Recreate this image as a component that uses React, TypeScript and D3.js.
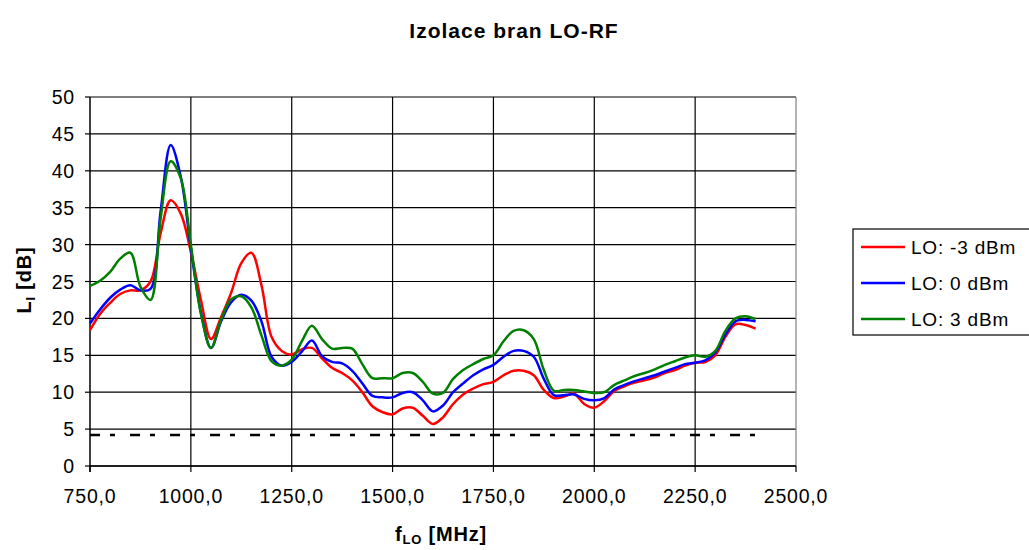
import React from "react";
import * as d3 from "d3";

// frequency grid [MHz]
const freqs = d3.range(750, 2401, 25);

const loMinus3 = [
  18.4, 20.6, 22.1, 23.3, 23.8, 23.8, 25.0, 31.5, 36.0, 34.2,
  29.0, 22.5, 17.2, 20.2, 23.5, 27.5, 28.9, 24.5, 17.5, 15.6,
  15.1, 15.8, 16.0, 14.6, 13.3, 12.6, 11.6, 10.0, 8.1, 7.3,
  7.0, 7.8, 7.9, 6.8, 5.7, 6.6, 8.4, 9.7, 10.5, 11.1,
  11.4, 12.3, 12.9, 12.9, 12.3, 10.3, 9.2, 9.4, 9.8, 8.4,
  7.9, 8.8, 10.2, 10.8, 11.3, 11.6, 12.0, 12.6, 13.0, 13.6,
  14.0, 14.1, 15.0, 17.5, 19.2, 19.1, 18.6,
];
const lo0 = [
  19.3, 21.2, 22.8, 23.9, 24.5, 23.8, 24.0, 34.5, 43.5, 39.2,
  29.5, 20.8, 16.0, 19.6, 22.2, 23.2, 22.4, 19.6, 14.8, 13.6,
  14.1, 15.5, 17.0, 14.9, 14.1, 13.9, 12.9, 11.2, 9.5, 9.3,
  9.3, 9.9, 10.0, 8.9, 7.4, 8.2, 10.0, 11.2, 12.3, 13.1,
  13.7, 14.8, 15.6, 15.6, 14.8, 11.8, 9.6, 9.6, 9.7, 9.1,
  8.9, 9.2, 10.4, 11.0, 11.5, 11.9, 12.3, 12.8, 13.3, 13.8,
  14.0, 14.3, 15.4, 17.8, 19.6, 19.8, 19.6,
];
const loPlus3 = [
  24.4, 25.1, 26.3, 28.1, 28.9, 24.3, 22.5, 33.5, 41.3, 39.0,
  30.0, 20.6, 16.0, 19.8, 22.6, 23.0, 21.5, 17.7, 14.2, 13.6,
  14.4, 16.9, 19.0, 17.2, 15.9, 16.0, 15.9, 13.8, 11.9, 11.9,
  11.9, 12.6, 12.6, 11.4, 9.8, 9.9, 11.8, 13.0, 13.8, 14.5,
  15.0, 16.9, 18.3, 18.4, 17.2, 13.0, 10.2, 10.3, 10.3, 10.1,
  9.9, 10.0, 11.0, 11.6, 12.2, 12.6, 13.1, 13.7, 14.2, 14.7,
  15.0, 14.8, 15.6, 18.3, 20.0, 20.3, 19.9,
];
const limitLevel = 4.2;
const limitRange = [750, 2400];

const seriesNames = ["LO: -3 dBm", "LO: 0 dBm", "LO: 3 dBm"];
const seriesColors = ["#ff0000", "#0000ff", "#008000"];
const seriesValues = [loMinus3, lo0, loPlus3];

const xTicks = d3.range(750, 2501, 250);
const yTicks = d3.range(0, 51, 5);

const font = "'Liberation Sans', Arial, sans-serif";

export default function App() {
  const W = 1029, H = 550;
  const left = 90, right = 796, top = 97, bottom = 466;

  const x = d3.scaleLinear().domain([750, 2500]).range([left, right]);
  const y = d3.scaleLinear().domain([0, 50]).range([bottom, top]);

  const line = d3.line<number>()
    .x((_, i) => x(freqs[i]))
    .y(d => y(d))
    .curve(d3.curveCatmullRom.alpha(0.5));

  const fmt = (v: number) => v.toFixed(1).replace(".", ",");

  return (
    <svg width={W} height={H} style={{ position: "absolute", left: 0, top: 0 }}>
      <rect width={W} height={H} fill="#fff" />
      <text x={514} y={38} textAnchor="middle" fontFamily={font} fontWeight="bold" fontSize={21} letterSpacing={1}>
        Izolace bran LO-RF
      </text>

      {/* grid */}
      {yTicks.map(t => (
        <line key={"gy" + t} x1={left} x2={right} y1={y(t)} y2={y(t)} stroke="#000" strokeWidth={1.2} />
      ))}
      {xTicks.slice(1, -1).map(t => (
        <line key={"gx" + t} x1={x(t)} x2={x(t)} y1={top} y2={bottom} stroke="#000" strokeWidth={1.2} />
      ))}
      <line x1={right} x2={right} y1={top} y2={bottom} stroke="#808080" strokeWidth={1.2} />

      {/* axes */}
      <line x1={left} x2={left} y1={top} y2={bottom + 6} stroke="#000" strokeWidth={1.5} />
      <line x1={left} x2={right} y1={bottom} y2={bottom} stroke="#000" strokeWidth={1.5} />
      {yTicks.map(t => (
        <g key={"ty" + t}>
          <line x1={left - 5} x2={left} y1={y(t)} y2={y(t)} stroke="#000" strokeWidth={1.2} />
          <text x={left - 15} y={y(t) + 7} textAnchor="end" fontFamily={font} fontSize={19.5} letterSpacing={0.8} fill="#000">
            {t}
          </text>
        </g>
      ))}
      {xTicks.map(t => (
        <g key={"tx" + t}>
          <line x1={x(t)} x2={x(t)} y1={bottom} y2={bottom + 6} stroke="#000" strokeWidth={1.2} />
          <text x={x(t)} y={bottom + 37} textAnchor="middle" fontFamily={font} fontSize={19.5} letterSpacing={0.8} fill="#000">
            {fmt(t)}
          </text>
        </g>
      ))}

      {/* limit line */}
      <line
        x1={x(limitRange[0])} x2={x(limitRange[1])}
        y1={y(limitLevel)} y2={y(limitLevel)}
        stroke="#000" strokeWidth={2.5} strokeDasharray="10,10,5,15"
      />

      {/* series */}
      {seriesValues.map((vals, i) => (
        <path key={"s" + i} d={line(vals) || ""} fill="none" stroke={seriesColors[i]} strokeWidth={2.5} strokeLinejoin="round" />
      ))}

      {/* axis titles */}
      <text x={441} y={541} textAnchor="middle" fontFamily={font} fontWeight="bold" fontSize={20} letterSpacing={0.8}>
        f<tspan fontSize={13} dy={3}>LO</tspan>
        <tspan dy={-3}> [MHz]</tspan>
      </text>
      <text transform="translate(31,280) rotate(-90)" textAnchor="middle" fontFamily={font} fontWeight="bold" fontSize={20} letterSpacing={0.8}>
        L<tspan fontSize={13} dy={4}>I</tspan>
        <tspan dy={-4}> [dB]</tspan>
      </text>

      {/* legend */}
      <rect x={853} y={229} width={180} height={106} fill="#fff" stroke="#000" strokeWidth={1.2} />
      {seriesNames.map((n, i) => (
        <g key={"l" + i}>
          <line x1={861} x2={905} y1={247 + i * 36} y2={247 + i * 36} stroke={seriesColors[i]} strokeWidth={2.5} />
          <text x={911} y={254 + i * 36} fontFamily={font} fontSize={19} letterSpacing={0.8} fill="#000">
            {n}
          </text>
        </g>
      ))}
    </svg>
  );
}
